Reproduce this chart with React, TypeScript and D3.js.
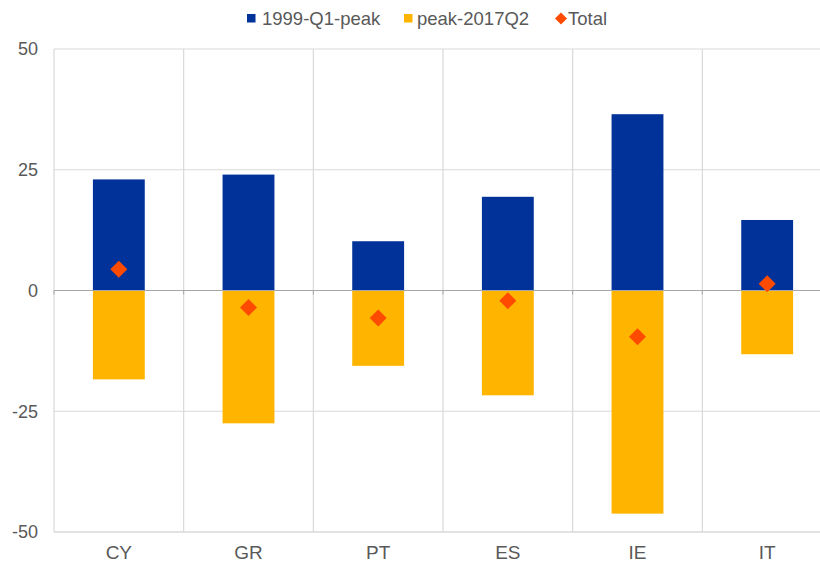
import React from "react";
import * as d3 from "d3";

const categories = ["CY", "GR", "PT", "ES", "IE", "IT"];
const seriesNames = ["1999-Q1-peak", "peak-2017Q2", "Total"];
const rise = [23.0, 24.0, 10.2, 19.4, 36.5, 14.6];
const fall = [-18.4, -27.5, -15.6, -21.7, -46.2, -13.2];
const total = [4.4, -3.5, -5.7, -2.1, -9.6, 1.4];
const yTicks = [-50, -25, 0, 25, 50];

const BLUE = "#003299";
const YELLOW = "#FFB400";
const RED = "#FF4B00";
const GRID = "#d9d9d9";
const TEXT = "#595959";

export default function App() {
  const W = 820, H = 562;
  const left = 54, right = 832, top = 49, bottom = 532;
  const x = d3.scaleBand<string>().domain(categories).range([left, right]).paddingInner(0).paddingOuter(0);
  const y = d3.scaleLinear().domain([-50, 50]).range([bottom, top]);
  const bw = x.bandwidth() * 0.4;
  const font = "Arial, 'Liberation Sans', sans-serif";
  const diamond = (cx: number, cy: number, r: number) =>
    `M${cx},${cy - r}L${cx + r},${cy}L${cx},${cy + r}L${cx - r},${cy}Z`;

  return (
    <svg width={W} height={H} style={{ position: "absolute", left: 0, top: 0 }} fontFamily={font}>
      <rect width={W} height={H} fill="#fff" />
      {yTicks.map((t) => (
        <g key={t}>
          {t !== 0 && t !== -50 && (
            <line x1={left} x2={right} y1={y(t)} y2={y(t)} stroke={GRID} strokeWidth={1.2} />
          )}
          <text x={38} y={y(t)} dy="0.35em" textAnchor="end" fontSize={18} fill={TEXT}>
            {t}
          </text>
        </g>
      ))}
      {categories.map((c) => (
        <line key={c} x1={x(c)!} x2={x(c)!} y1={top} y2={bottom} stroke={GRID} strokeWidth={1.2} />
      ))}
      <line x1={left} x2={right} y1={y(-50)} y2={y(-50)} stroke={GRID} strokeWidth={1.5} />
      {categories.map((c, i) => {
        const cx = x(c)! + x.bandwidth() / 2;
        return (
          <g key={c}>
            <rect x={cx - bw / 2} y={y(rise[i])} width={bw} height={y(0) - y(rise[i])} fill={BLUE} />
            <rect x={cx - bw / 2} y={y(0)} width={bw} height={y(fall[i]) - y(0)} fill={YELLOW} />
          </g>
        );
      })}
      <line x1={left} x2={right} y1={y(0)} y2={y(0)} stroke="#a6a6a6" strokeWidth={1.2} />
      {categories.map((c) => (
        <line key={c} x1={x(c)!} x2={x(c)!} y1={y(0)} y2={y(0) + 4} stroke="#a6a6a6" strokeWidth={1} />
      ))}
      {categories.map((c, i) => {
        const cx = x(c)! + x.bandwidth() / 2;
        return <path key={c} d={diamond(cx, y(total[i]), 8.5)} fill={RED} />;
      })}
      {categories.map((c) => (
        <text key={c} x={x(c)! + x.bandwidth() / 2} y={552} dy="0.35em" textAnchor="middle" fontSize={19} fill={TEXT}>
          {c}
        </text>
      ))}
      <g fontSize={18.5} fill={TEXT}>
        <rect x={247} y={14} width={8.5} height={8.5} fill={BLUE} />
        <text x={262} y={18.5} dy="0.35em">{seriesNames[0]}</text>
        <rect x={404} y={14} width={8.5} height={8.5} fill={YELLOW} />
        <text x={417} y={18.5} dy="0.35em">{seriesNames[1]}</text>
        <path d={diamond(561, 18.5, 6)} fill={RED} />
        <text x={568} y={18.5} dy="0.35em">{seriesNames[2]}</text>
      </g>
    </svg>
  );
}
